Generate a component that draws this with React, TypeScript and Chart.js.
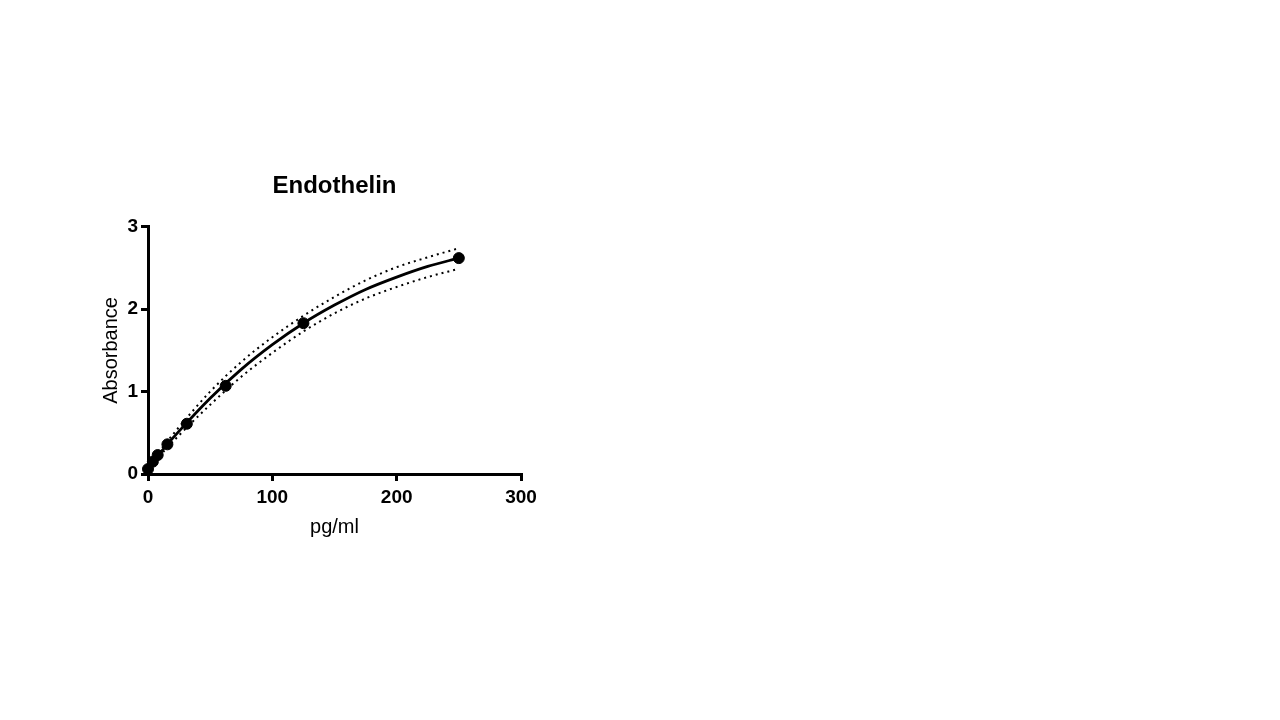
import React, { useEffect, useRef } from "react";
import { Chart, registerables } from "chart.js";

Chart.register(...registerables);

// measured standards (pg/ml vs absorbance)
const stdConc = [0, 3.9, 7.8, 15.6, 31.25, 62.5, 125, 250];
const stdAbs = [0.06, 0.15, 0.23, 0.36, 0.61, 1.07, 1.83, 2.62];

// fitted curve and its confidence band
const fitConc = [0, 10, 25, 50, 75, 100, 125, 150, 175, 200, 225, 250];
const fitAbs = [0.06, 0.26, 0.52, 0.92, 1.27, 1.57, 1.83, 2.05, 2.24, 2.39, 2.52, 2.62];
const upperAbs = [0.08, 0.29, 0.57, 1.0, 1.36, 1.66, 1.92, 2.15, 2.35, 2.51, 2.63, 2.74];
const lowerAbs = [0.04, 0.23, 0.47, 0.84, 1.18, 1.47, 1.73, 1.95, 2.13, 2.27, 2.39, 2.49];

const xTicks = [0, 100, 200, 300];
const yTicks = [0, 1, 2, 3];

const FONT = "'Liberation Sans', Arial, sans-serif";

const toPoints = (xs: number[], ys: number[]) => xs.map((x, i) => ({ x, y: ys[i] }));

export default function App() {
  const canvasRef = useRef<HTMLCanvasElement | null>(null);

  useEffect(() => {
    if (!canvasRef.current) return;

    const band = (data: { x: number; y: number }[]) => ({
      data,
      showLine: true,
      borderColor: "#000",
      borderWidth: 2,
      borderDash: [2, 4],
      pointRadius: 0,
      cubicInterpolationMode: "monotone" as const,
      clip: false as const,
    });

    const chart = new Chart(canvasRef.current, {
      type: "scatter",
      data: {
        datasets: [
          band(toPoints(fitConc, upperAbs)),
          band(toPoints(fitConc, lowerAbs)),
          {
            data: toPoints(fitConc, fitAbs),
            showLine: true,
            borderColor: "#000",
            borderWidth: 2.8,
            pointRadius: 0,
            cubicInterpolationMode: "monotone",
            clip: false,
          },
          {
            data: toPoints(stdConc, stdAbs),
            showLine: false,
            backgroundColor: "#000",
            borderColor: "#000",
            pointRadius: 5.5,
            clip: false,
          },
        ],
      },
      options: {
        animation: false,
        responsive: true,
        maintainAspectRatio: false,
        layout: { padding: { left: 99, right: 759, top: 0, bottom: 181 } },
        plugins: {
          legend: { display: false },
          tooltip: { enabled: false },
          title: {
            display: true,
            text: "Endothelin",
            fullSize: false,
            color: "#000",
            font: { family: FONT, size: 24, weight: "bold", lineHeight: 1.2 },
            padding: { top: 172, bottom: 26 },
          },
        },
        scales: {
          x: {
            type: "linear",
            min: 0,
            max: 300,
            afterFit: (s: any) => {
              s.height = 65;
            },
            afterBuildTicks: (s: any) => {
              s.ticks = xTicks.map((v) => ({ value: v }));
            },
            border: { display: true, color: "#000", width: 3 },
            grid: { drawOnChartArea: false, drawTicks: true, tickLength: 7, color: "#000", lineWidth: 3 },
            ticks: { color: "#000", font: { family: FONT, size: 19, weight: "bold" }, padding: 5, maxRotation: 0 },
            title: {
              display: true,
              text: "pg/ml",
              color: "#000",
              font: { family: FONT, size: 20, lineHeight: 1.2 },
              padding: 0,
            },
          },
          y: {
            type: "linear",
            min: 0,
            max: 3,
            afterFit: (s: any) => {
              s.width = 49;
            },
            afterBuildTicks: (s: any) => {
              s.ticks = yTicks.map((v) => ({ value: v }));
            },
            border: { display: true, color: "#000", width: 3 },
            grid: { drawOnChartArea: false, drawTicks: true, tickLength: 7, color: "#000", lineWidth: 3 },
            ticks: { color: "#000", font: { family: FONT, size: 19, weight: "bold" }, padding: 3 },
            title: {
              display: true,
              text: "Absorbance",
              color: "#000",
              font: { family: FONT, size: 20, lineHeight: 1.2 },
              padding: 0,
            },
          },
        },
      },
    });

    return () => {
      chart.destroy();
    };
  }, []);

  return (
    <div style={{ position: "fixed", left: 0, top: 0, width: 1280, height: 720, background: "#fff" }}>
      <canvas ref={canvasRef} />
    </div>
  );
}
